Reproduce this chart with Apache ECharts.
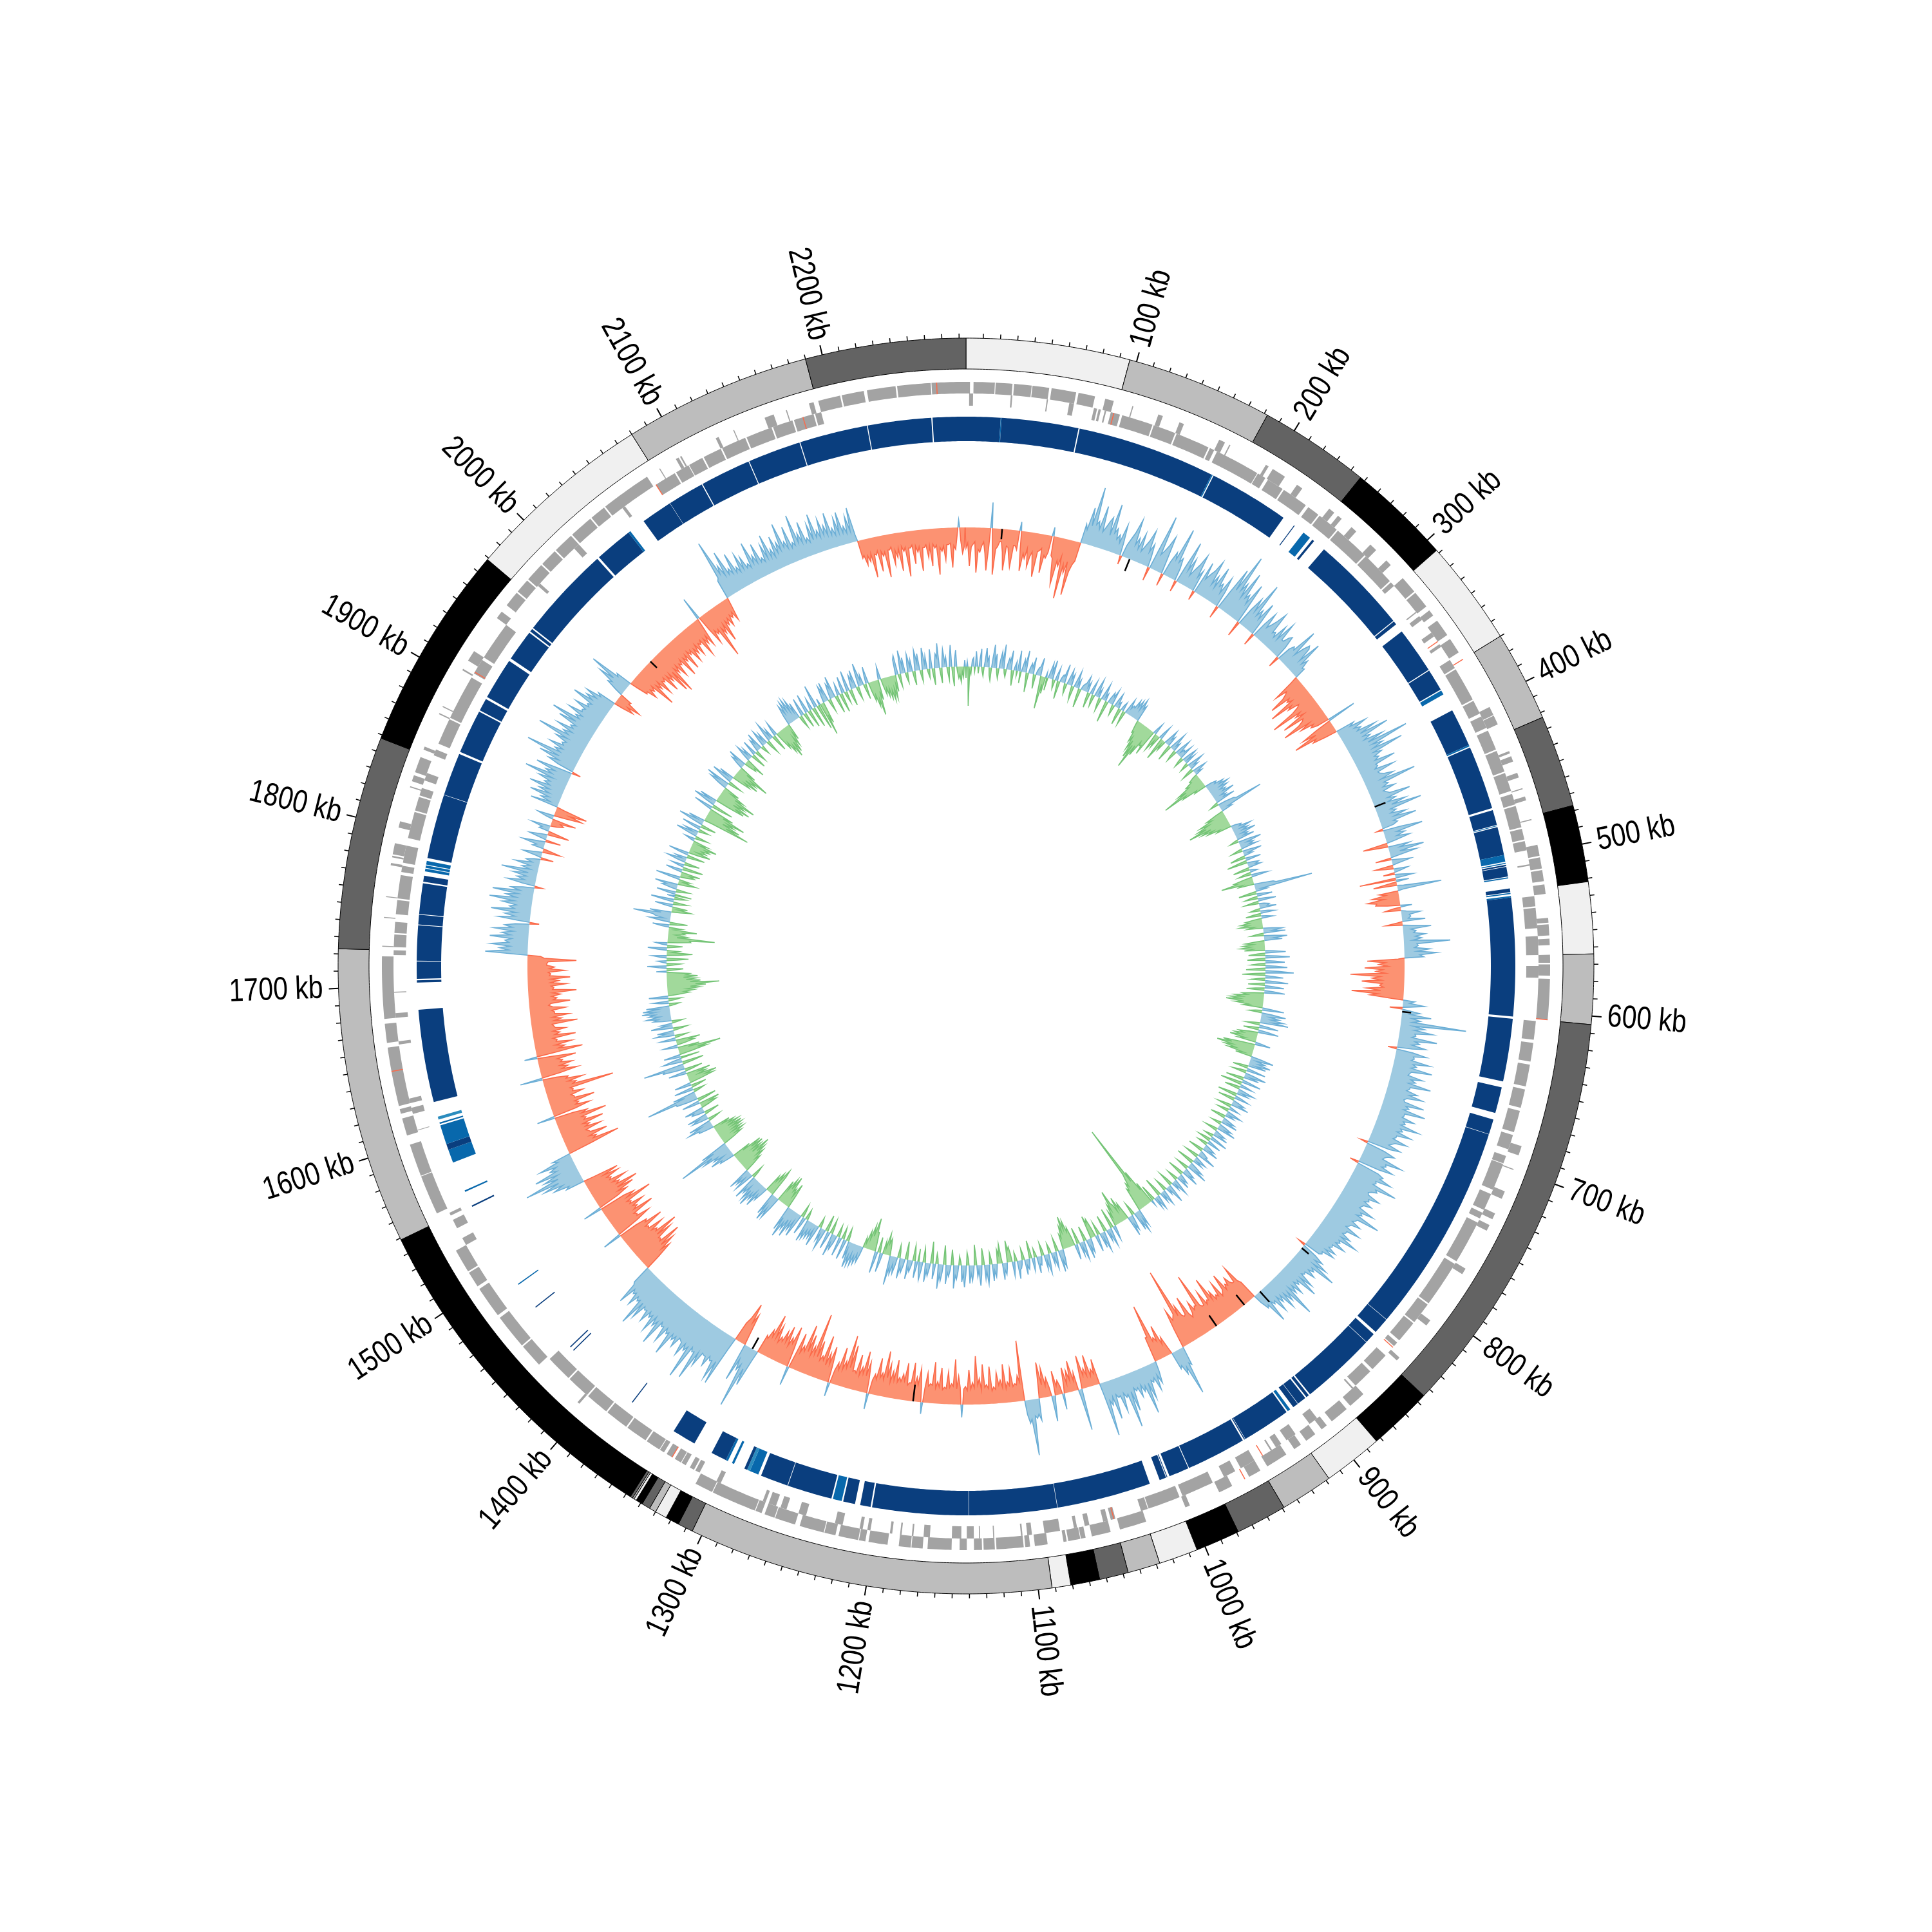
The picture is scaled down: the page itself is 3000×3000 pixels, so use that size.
<!DOCTYPE html>
<html><head><meta charset="utf-8">
<style>html,body{margin:0;padding:0;background:#fff}#c{width:3000px;height:3000px}</style>
<script src="https://cdn.jsdelivr.net/npm/echarts@6/dist/echarts.min.js"></script>
</head><body><div id="c"></div>
<script>
const genomeLength = 2284;
const tickLabels = [100,200,300,400,500,600,700,800,900,1000,1100,1200,1300,1400,1500,1600,1700,1800,1900,2000,2100,2200];

// [start kb, end kb, shade]
const bands = [[0,96,0],[96,182,1],[182,247,2],[247,308,3],[308,370,0],[370,423,1],[423,477,2],[477,522,3],[522,564,0],[564,605,1],[605,845,2],[845,883,3],[883,918,0],[918,949,1],[949,979,2],[979,1005,3],[1005,1028,0],[1028,1047,1],[1047,1064,2],[1064,1081,3],[1081,1092,0],[1092,1306,1],[1306,1315,2],[1315,1323,3],[1323,1330,0],[1330,1334,1],[1334,1339,2],[1339,1343,3],[1343,1344.5,0],[1344.5,1345.5,1],[1345.5,1347,2],[1347,1549,3],[1549,1723,1],[1723,1848,2],[1848,1969,3],[1969,2080,0],[2080,2190,1],[2190,2284,2]];

const fwdGenes = [[0,2.5],[4.7,18],[18.5,29],[30,41],[41.5,52],[53.5,69],[70.5,81],[87.5,93],[105,105.7],[122,125],[136,139],[163,167],[170,170.8],[196,198],[201,210],[219,223],[244,248],[251,254],[262,266],[278,283],[292,296],[307,318],[319,330],[333,337],[341,352],[355,365],[404,409.5],[410,416],[434,435.5],[437.5,441],[448.5,451.5],[458.5,459.2],[464,466.5],[478.5,479.2],[495,502],[503,510],[511,518],[520,526],[541,544],[545,552],[554,558],[564,569],[570,577],[579,604.5],[685,691],[700,700.7],[715,720],[730,734],[738,742],[769,773],[808,812],[838,840.5],[870,881],[884,896],[900,904],[909,916],[920,925],[931,945],[950,958],[970,979],[999,1002],[1028,1045],[1051,1063],[1067,1070],[1070.4,1078],[1079,1081],[1091,1099],[1102,1105],[1106,1123],[1124,1131],[1132,1137],[1141.5,1146],[1151,1166],[1169,1176],[1176.5,1184],[1191,1203],[1205,1209],[1209.5,1222],[1224,1231],[1231.5,1247],[1250,1263],[1263.5,1270],[1272,1276],[1276.5,1305],[1305.5,1317],[1405,1406.5],[1440,1455],[1456,1478],[1480,1500],[1502,1512],[1513,1528],[1554,1579],[1579.5,1600],[1606,1617],[1620,1623],[1625,1662],[1665,1677],[1680,1719],[1725,1725.6],[1743,1743.6],[1756,1756.6],[1776,1777.5],[1781,1782],[1783,1790],[1800,1804],[1826,1826.8],[1830,1834],[1836,1846],[1851,1853],[1875,1875.8],[1880,1880.7],[1906,1907],[1913,1920],[1945,1950],[1955,1965],[1966,1975],[1976,1988],[1989,2000],[2001,2014],[2015,2030],[2031,2041],[2042,2074],[2083,2083.6],[2095,2097],[2098,2099],[2123,2125],[2135,2135.6],[2156,2162],[2170,2170.7],[2185,2188],[2191,2205],[2206,2220],[2222,2240],[2241,2262],[2262.5,2284]];

const revGenes = [[2,4.5],[28.5,29.5],[51.5,52.3],[66,69],[82,84],[85,86.5],[89,90],[93,99],[100.5,120.6],[121.5,136],[137,159],[160,163],[165,194],[194.5,200],[202,213],[214,231],[233,241],[242,256],[257,280],[281,303],[304,307],[328.5,329.3],[332,335],[345,348],[354,356],[366,372],[373,395],[396,405],[407,415],[417,430],[431,445],[446,458],[460,467],[468,482],[483,490],[491,497],[506,507],[526.5,533],[534,547],[552,564],[571,578.5],[606,618],[620,632],[634,648],[650,662],[664,678],[680,689.5],[694,699],[699.4,717],[720,731],[733,737],[740,768],[770,800],[801,815],[816,830],[832,835],[843,855],[857,870],[872,873],[902,908],[919,926],[930,934],[937,938],[950,960],[964,972],[980,1001],[1003,1024],[1024.5,1029],[1046,1049],[1051,1054],[1063,1066],[1071,1073],[1082,1092],[1100,1103],[1106,1107],[1124,1124.7],[1133,1133.7],[1137,1141.5],[1145,1151],[1165,1169],[1175.5,1176.5],[1183,1184],[1189,1190.5],[1203,1205],[1208,1210],[1221,1226],[1245,1250],[1258,1262],[1265,1270],[1272,1274],[1303,1306],[1318,1321],[1322,1325],[1328,1331],[1331.5,1336],[1338,1342],[1344,1347],[1347.5,1357],[1358,1372],[1373,1388],[1389,1404],[1405,1420],[1421,1438],[1528,1533],[1540,1546],[1549,1551],[1607,1607.5],[1618,1622],[1625,1628],[1663,1665],[1680,1683],[1696,1696.6],[1720,1723],[1725,1733],[1734,1741],[1746,1755],[1756,1771],[1773,1777],[1779,1790],[1795,1812],[1813,1822],[1823,1828],[1833,1838],[1850,1854],[1858,1875],[1876,1905],[1908,1918],[1920,1945],[1977,1979],[2010,2014],[2050,2052],[2076,2090],[2091,2100],[2100.5,2110],[2111,2123],[2124,2140],[2141,2158],[2159,2172],[2173,2186],[2187,2191]];

// [kb, strand 0 outer / 1 inner]
const redGenes = [[2265.7,0],[604.5,0],[370,0],[1647,0],[961,0],[95,1],[352,1],[836,1],[944,1],[1047,1],[1338,1],[1909,1],[2076,1],[2179,1]];

// [start kb, end kb, shade]
const hits = [[0,23,0],[23,23.6,1],[23.6,75,0],[75.8,168.5,0],[168.5,169.3,1],[170,224,0],[232.6,233.2,0],[240.5,246,1],[248,249.5,0],[258,324,0],[324.6,327,0],[333,364,0],[364.6,379.3,0],[380,383,1],[395,420.5,0],[420.5,421.5,1],[422.3,465,0],[466.4,476.5,0],[477,477.4,1],[478,497,0],[497,501.5,1],[502.3,503,1],[503.6,504.6,0],[505,511.5,0],[512,512.8,1],[519.5,522,0],[522.5,523.2,1],[524.5,525.5,1],[525.5,604.5,0],[606,648,0],[652,669.5,0],[674,684,0],[684.3,825,0],[825.3,836,0],[838,845,0],[845.3,896,0],[897,899,0],[900,906,0],[906.3,910,0],[912.5,914.5,1],[915.5,948,0],[948.3,949,0],[950,990,0],[990.5,1004,0],[1005.5,1006,0],[1006.5,1011,0],[1018,1081,0],[1081.3,1140,0],[1140.3,1204.5,0],[1205.5,1212.5,0],[1216,1224,0],[1225,1231,1],[1232,1262,0],[1262.4,1281,0],[1283,1289,1],[1289,1291,2],[1291,1293,0],[1300.5,1302,1],[1305,1306.5,1],[1306.5,1317,0],[1330,1346,0],[1379,1379.7,0],[1431,1431.7,0],[1434,1434.7,0],[1469,1469.7,0],[1488,1488.7,1],[1548,1549,0],[1559,1560,1],[1580,1589,1],[1589,1593,0],[1593,1606,1],[1607,1608,1],[1610,1612,2],[1622,1684,0],[1702,1703.5,0],[1704.5,1716,0],[1716.5,1740,0],[1740.5,1747,0],[1747.5,1768,0],[1769,1773,0],[1776,1777.8,1],[1778.3,1780,1],[1780.5,1783,1],[1785,1828,0],[1828.3,1857,0],[1858.5,1888,0],[1889,1897.5,0],[1899,1927,0],[1929,1950,0],[1951,1953,0],[1954,2016.5,0],[2018,2043.5,0],[2043.5,2045,1],[2056,2077,0],[2077.2,2101.5,0],[2102.2,2136,0],[2136.6,2172,0],[2172.6,2218,0],[2218.6,2261,0],[2261.8,2284,0]];

// outer signal track, one list per 100 kb (positive outward, negative inward)
const skew0000 = [-32,-24,-60,-30,-26,-22,-70,-34,-38,-28,-22,-40,-66,-30,40,-26,-72,-32,-28,-20,-20,-36,-64,-26,-28,-44,-58,-24,-24,-30,14,-28,-62,-34,-42,-26,-54,-38,-30,-48,-68,-28,-26,-22,-60,-32,-36,-26,14,-30,-34,-56,-74,-36,-44,-28,-94,-40,-52,-34,-86,-48,-36,-30,30,22];
const skew0100 = [58,30,92,34,40,28,66,26,34,44,52,24,75,30,38,22,30,18,48,20,-14,18,30,42,64,24,36,20,46,18,28,38,56,22,36,16,-22,30,88,26,34,44,60,20,-20,22,40,30,82,28,36,20,-18,26,69,24,44,18,30,40,58,22,34,-15];
const skew0200 = [52,26,36,44,62,24,40,22,58,28,34,20,48,26,-20,30,72,38,100,42,56,34,78,36,44,30,66,24,-25,28,50,30,80,26,38,24,54,20,-20,24,46,22,30,40,56,22,26,18,42,20,52,24,24,34,38,20,-18,22,30,26,66,22,38,48];
const skew0300 = [44,22,58,20,30,16,18,-12,-45,-26,-30,-38,-62,-30,-36,-28,-70,-34,-42,-24,-28,-40,-78,-30,-40,-26,-66,-32,-35,-44,-72,-28,-45,-24,-30,-20,46,-26,-52,-30,-69,-34,-40,-18,30,22,48,26,36,28,58,30,76,32,42,30,60,34,99,38,54,36,84,34,46,32];
const skew0400 = [38,30,62,28,30,24,54,26,28,34,48,26,81,28,34,24,42,22,26,30,62,24,36,22,50,26,73,22,30,20,44,24,58,20,26,18,-10,28,62,20,32,18,38,14,-39,-14,34,18,55,16,42,12,-25,10,30,8,-28,-12,22,8,-18,10,28,-57];
const skew0500 = [20,-14,-37,10,69,8,-30,-20,-42,-24,-50,-36,-38,-20,18,-12,-25,8,30,12,14,10,36,-8,-26,14,44,12,20,16,34,18,28,14,72,20,22,16,40,20,51,24,30,-10,-58,-30,-40,-26,-62,-34,-44,-30,-84,-38,-50,-36,-66,-34,-38,-32,-58,-36,-81,-40,-52,-20];
const skew0600 = [18,10,34,12,-20,10,28,14,46,16,30,18,102,20,38,22,52,24,26,20,60,26,34,22,44,24,-14,26,48,28,30,26,56,30,36,28,62,30,28,26,50,32,40,30,66,34,34,30,48,36,58,34,30,32,64,36,42,34,70,38,38,36,56,40,44,38];
const skew0700 = [68,40,44,36,60,38,38,34,58,40,36,32,52,36,-12,30,48,38,34,32,65,40,42,36,56,34,-14,36,46,42,62,38,40,36,77,44,48,40,36,38,58,42,44,38,52,40,38,36,62,42,46,38,79,44,42,38,54,40,38,34,60,40,40,36,52,38];
const skew0800 = [67,38,42,36,54,34,36,32,46,30,47,28,30,26,-12,24,40,28,52,30,71,32,38,30,44,28,30,26,50,30,62,28,34,26,46,28,40,26,76,30,44,28,52,26,36,24,48,26,30,22,57,24,28,14,-30,-36,-63,-38,-38,-42,-52,-40,-44,-36,-65,-40];
const skew0900 = [-36,-32,-58,-36,-40,-34,-50,-38,-76,-40,-42,-36,-60,-38,-38,-42,-96,-44,-45,-40,-55,-38,-32,-40,-70,-42,-40,-44,-62,-46,-125,-52,-48,-44,-62,-30,30,26,76,30,40,24,28,-10,-30,-20,-52,-28,-35,-30,-91,-40,-40,16,34,20,43,22,28,24,52,26,74,28,36,24];
const skew1000 = [42,26,30,24,60,28,84,30,34,26,54,28,30,24,62,26,38,30,85,20,-40,-18,-26,-16,-50,-18,-30,-20,-52,-16,65,14,-28,-16,-48,-18,-34,-14,-40,-10,25,-12,-22,-14,-38,10,40,-14,-30,-18,-46,-20,-56,-18,34,24,30,26,87,30,36,22,-94,-30,-40,-26];
const skew1100 = [-28,-24,-52,-26,-32,-22,-60,-24,-36,-28,-48,-22,-26,-20,-58,-24,-30,-26,-62,-22,-40,-30,-75,-26,-34,-24,-54,-22,-28,-24,20,-26,-44,-24,-70,-28,-32,-26,-50,-24,-26,-22,-56,-26,-34,-24,-64,-28,-30,-26,-46,-22,18,-24,-52,-26,-38,-24,-60,-28,-28,-24,-58,-30,-40,-28];
const skew1200 = [-34,-26,-60,-28,-42,-24,-52,-30,-71,-26,-36,-28,-58,-24,-32,-22,25,-24,-48,-26,-64,-28,-38,-24,-56,-26,-30,-28,-68,-32,-82,-30,-40,-26,-60,-24,-34,-22,22,-26,-56,-28,-44,-24,-70,-30,-36,-28,-58,-32,-100,-34,-46,-30,-62,-34,-76,-32,-40,-28,-58,-22,30,-30,-64,-36];
const skew1300 = [-44,-30,-60,-34,-50,-32,-38,-28,-54,-34,-69,-32,-42,-26,-30,16,60,34,99,30,40,24,60,-16,-50,-36,-66,-40,-30,20,82,46,77,48,50,44,62,48,48,46,70,50,97,52,54,48,103,52,60,50,72,52,50,48,66,50,58,50,88,52,56,48,74,50,52,46];
const skew1400 = [88,50,60,46,74,48,54,46,66,48,50,46,70,44,86,44,48,42,60,40,44,38,66,34,30,-24,-50,-36,-62,-40,-77,-42,-46,-44,-70,-46,-84,-48,-52,-44,-66,-42,-44,-40,-72,-44,-48,-30,30,-36,-60,-40,-42,-38,-74,-42,-50,-44,-64,-42,-46,-40,-84,-44,-58,-42];
const skew1500 = [30,-34,-52,-38,-66,-40,-76,-42,-48,-38,-62,-36,-40,-34,-55,-32,-57,-18,30,24,48,32,62,36,90,34,56,32,68,30,40,28,54,22,30,-40,-85,-44,-50,-40,-70,-44,-42,-38,-64,-40,-48,-38,-72,-42,-46,-40,-81,-42,-52,-30,28,-36,-60,-38,-44,-38,-71,-40,-40,-36];
const skew1600 = [-56,-40,-42,-38,-108,-44,-50,-38,-62,-36,-40,-22,35,-30,-58,-34,-44,-32,-52,-34,-38,-30,-60,-26,20,-32,-73,-36,-46,-32,-58,-34,-36,-30,-66,-34,-42,-32,-52,-36,-34,-32,-72,-36,-48,-34,-60,-38,-38,-34,-56,-36,-30,-34,-64,-38,-44,-36,-50,-38,-75,-38,-40,-36,-60,-36];
const skew1700 = [-48,-36,-66,-34,-36,-32,-58,-34,-42,-30,-30,-32,-76,-26,-20,22,66,30,44,28,58,30,36,26,60,28,42,24,54,26,38,22,-15,20,50,24,40,22,62,26,34,24,46,28,67,26,42,24,64,22,36,18,-12,20,44,18,30,16,38,14,57,12,26,14,38,12];
const skew1800 = [22,10,-20,8,30,10,-28,-10,18,12,36,10,-24,8,28,10,-34,-12,16,12,30,-10,-20,-14,-38,12,26,-18,-44,-24,-50,-12,44,14,30,18,50,20,38,22,56,24,34,26,46,24,71,28,40,26,58,24,-14,26,44,28,62,30,86,32,42,30,54,32,36,30];
const skew1900 = [50,32,83,34,44,30,58,32,38,30,62,34,77,32,40,30,56,34,36,32,52,30,34,28,63,32,44,28,48,24,30,-14,-32,-20,-40,-18,-20,12,30,24,50,26,69,22,26,-12,-30,-28,-44,-30,-36,-28,-68,-32,-42,-30,-55,-34,-38,-32,-60,-34,-46,-34,-70,-36];
const skew2000 = [-76,-34,-44,-32,-54,-34,-38,-30,-62,-32,-40,-30,-58,-28,-36,-30,-52,-32,-42,-28,-48,-30,-34,-28,-56,-30,-40,-28,-46,-16,37,-24,-50,-30,-38,-32,-81,-34,-44,-30,-60,-28,-36,-26,-40,-24,-30,-22,-37,-14,30,34,95,38,50,32,70,30,38,28,60,26,34,24,52,26];
const skew2100 = [44,24,30,22,62,26,38,24,54,22,28,20,46,24,60,22,34,20,52,24,40,26,68,28,36,24,58,22,30,24,72,26,40,24,56,22,28,20,48,22,62,24,34,22,50,24,38,22,56,20,30,18,44,20,52,18,28,16,42,18,54,10,-28,-24,-40,-26];
const skew2200 = [-36,-24,-62,-26,-28,-22,-55,-24,-32,-26,-66,-24,-24,-20,-48,-26,-38,-24,-60,-22,-30,-24,-70,-26,-26,-22,-52,-24,-34,-26,-64,-28,-28,-24,-44,-26,-58,-24,-30,-26,-72,-30,-36,-28,-50,-26,-26,-24,-62,-28,-34,-12,12,-20,-40,-30];

// inner signal track, one list per 100 kb
const gc0000 = [-18,8,-61,-6,-12,10,14,-8,24,6,-10,12,28,-6,-14,8,30,10,16,-12,-20,14,36,8,22,-8,-16,12,26,10,38,-6,-12,8,18,12,30,-10,-24,6,14,-8,32,10,-18,6,20,12,34,-10,-30,8,16,10,26,-8,-22,6,12,14,28,-16,-51,-12,-26,8];
const gc0100 = [-20,6,24,10,30,-6,-14,8,20,-10,-28,6,12,10,30,-8,-16,8,24,10,18,-12,-22,8,26,6,14,-14,-30,6,10,12,24,8,16,-12,-24,10,22,-10,-18,12,28,6,14,-10,-20,8,26,6,12,-16,-34,8,18,12,24,-8,-16,10,22,6,10,-14,-26,8];
const gc0200 = [14,-10,-22,8,24,10,16,14,28,18,30,16,34,20,26,-8,-20,-18,-34,-26,-46,-30,-58,-36,-74,-34,-50,-24,-30,-28,-42,8,18,-12,-28,-10,-20,10,22,-14,-36,-8,-16,8,24,10,16,-12,-26,10,28,8,14,-10,-18,12,26,6,12,10,22,-8,-16,12,24,6];
const gc0300 = [18,-6,-14,10,26,8,14,-10,-20,10,22,6,12,-8,-16,-14,-26,-22,-44,-30,-72,-34,-40,-16,-20,10,18,14,28,20,34,18,30,16,24,18,36,12,20,14,32,-6,-14,12,26,30,72,12,18,-14,-30,-22,-44,-30,-50,-36,-66,-30,-46,-28,-38,-18,-24,8,16,12];
const gc0400 = [30,12,24,14,34,10,20,12,28,-6,-14,16,36,12,22,14,26,-8,-18,12,30,8,14,-12,-24,10,24,-14,-32,8,18,12,20,-12,-26,6,12,-10,-20,14,26,-14,-30,-26,-51,-18,-24,12,30,34,91,10,18,-14,-28,10,24,-10,-20,12,28,-10,-22,8,16,12];
const gc0500 = [26,-8,-16,12,22,-12,-24,8,18,-12,-26,-20,-34,-22,-36,-14,-24,14,30,14,34,-10,-20,16,36,14,28,-14,-30,-18,-34,-22,-38,-20,-32,14,32,-12,-26,18,38,-14,-28,14,30,-10,-22,16,34,-14,-30,20,44,-16,-36,12,28,-10,-22,16,36,-12,-26,14,30,-14];
const gc0600 = [-28,14,32,-16,-34,-26,-46,-34,-52,-38,-58,-30,-44,-22,-30,14,34,-10,-20,16,38,14,28,16,36,20,44,-10,-22,14,30,-12,-24,16,32,-14,-30,-22,-36,-26,-42,-18,-28,10,24,-22,-50,-36,-59,-34,-46,-28,-40,-14,-26,16,36,10,24,14,34,12,28,-12,-24,10];
const gc0700 = [30,-10,-22,14,34,10,24,-12,-28,12,30,-16,-34,8,20,-12,-24,10,26,8,18,-14,-30,10,22,-12,-26,8,20,12,28,-10,-22,6,16,-8,-18,10,24,6,14,-12,-24,8,20,10,26,-6,-16,10,22,12,30,-8,-20,6,18,10,24,-6,-14,12,28,-10,-20,8];
const gc0800 = [22,-8,-16,8,18,10,26,-10,-24,6,14,12,30,-10,-22,8,20,6,16,-12,-28,10,24,14,34,-8,-20,6,18,12,28,-12,-26,6,16,8,22,-8,-18,10,26,6,14,-12,-24,12,30,6,12,-10,-20,10,24,6,16,-14,-30,8,22,6,18,-10,-26,8];
const gc0900 = [-36,-24,-60,-44,-141,-60,-52,-40,-46,-34,-38,-12,26,14,34,16,30,-10,-20,10,24,14,32,-12,-28,-20,-40,-18,-30,-34,-55,-24,-34,-14,-24,10,22,-14,-32,10,28,8,18,-12,-26,12,30,10,24,-8,-20,10,26,-14,-30,-24,-36,10,22,12,30,-10,-24,12,28,8];
const gc1000 = [20,-12,-26,10,24,-14,-30,-24,-42,-30,-50,-26,-36,-18,-24,14,28,16,34,-10,-22,12,26,8,18,-8,-16,14,30,10,22,-10,-20,6,14,12,26,-6,-14,10,20,-14,-28,8,16,10,24,-8,-18,6,12,14,28,-6,-14,10,22,-12,-24,-20,-34,8,18,10,26,-8];
const gc1100 = [-30,-14,-22,8,20,10,26,-8,-18,14,30,10,22,-12,-26,14,32,8,18,-14,-32,10,24,12,28,-10,-20,14,34,12,26,-6,-14,10,22,16,36,-10,-24,8,18,12,30,-14,-30,12,26,16,38,-8,-16,10,24,-14,-34,8,20,12,30,-10,-22,12,28,14];
const gc1200 = [-20,10,26,-12,-24,8,18,12,30,-12,-28,10,22,14,32,-10,-20,12,26,12,28,18,46,-12,-26,-18,-33,-10,-20,14,30,-10,-24,14,34,-12,-30,-30,-51,-22,-38,-16,-28,-8,-16,12,26,14,30,18,34,16,36,20,40,12,28,-10,-20,14,32,-8,-18,10];
const gc1300 = [30,-8,-18,12,24,14,36,-10,-22,12,28,-12,-26,14,32,10,20,-8,-16,14,34,10,24,12,26,14,30,18,36,-8,-16,12,28,-10,-20,16,38,14,30,18,44,16,34,24,50,18,40,-20,-40,-18,-30,-24,-48,-26,-42,-22,-36,18,38,22,44,18,36,-34];
const gc1400 = [-45,-24,-36,-20,-28,10,24,16,38,14,30,20,44,18,36,14,28,20,40,-10,-20,14,32,12,26,16,36,-14,-30,-22,-40,-28,-46,-32,-56,-26,-44,-30,-50,-30,-48,-16,-30,10,24,20,38,14,30,22,46,30,85,24,44,-18,-34,-24,-40,-22,-38,-24,-42,-26,-43,-20];
const gc1500 = [-40,-24,-34,-16,-28,10,24,22,40,18,36,-10,-20,12,26,14,32,-10,-24,10,20,16,30,-12,-26,-16,-32,12,28,-14,-30,16,34,34,81,18,36,-8,-18,12,30,-10,-24,12,26,-20,-40,-28,-46,-18,-30,-20,-38,12,28,-12,-28,14,34,32,64,-16,-34,12,30,14];
const gc1600 = [-30,12,26,-20,-44,-30,-67,-16,-34,10,22,-14,-28,-20,-38,12,24,-8,-20,14,30,12,26,-10,-22,14,34,8,18,-8,-18,14,28,20,38,18,34,24,44,22,42,18,36,-8,-16,12,24,-10,-20,14,30,-16,-34,-26,-42,-30,-50,-36,-60,-44,-81,-36,-52,-30,-46,-26];
const gc1700 = [-48,-30,-36,-12,16,-10,-26,12,30,-10,-22,6,14,-16,-34,10,22,-18,-40,-8,-18,14,30,-10,-24,8,18,-16,-36,-34,-73,-14,-30,-12,-26,-22,-44,-10,-20,12,26,-12,-28,14,32,10,24,28,59,16,34,-14,-30,-10,-24,12,28,-10,-22,16,36,-8,-18,12];
const gc1800 = [-26,12,30,-8,-20,10,24,18,36,-12,-28,-8,-18,16,38,-10,-22,-14,-30,12,26,-16,-32,8,20,-10,-24,14,30,8,18,-12,-28,14,32,-16,-34,-12,-26,-18,-30,-22,-40,-12,-24,6,16,-8,-20,14,34,10,22,-6,-16,14,30,-10,-24,18,40,12,26,-14];
const gc1900 = [-75,-36,-58,-28,-46,-34,-62,-24,-40,12,30,-16,-34,16,36,12,28,-22,-48,-32,-56,-26,-44,-32,-60,-24,-38,-14,-26,14,30,18,38,-10,-22,16,34,10,24,-14,-30,-20,-42,-18,-36,-26,-55,-14,-28,10,22,14,30,-8,-20,-16,-32,12,26,8,18,-10,-24,8];
const gc2000 = [24,-8,-18,8,20,12,28,-6,-14,12,26,8,18,-10,-22,14,30,6,16,-12,-26,10,22,-14,-30,-22,-40,-30,-50,-26,-44,-20,-34,-14,-26,16,32,18,36,20,38,16,34,12,26,-10,-20,12,28,-10,-24,14,30,-12,-28,8,18,-14,-32,16,36,-18,-40,10];
const gc2100 = [-52,-20,-34,10,26,14,30,-8,-20,10,24,16,34,-12,-28,8,18,-14,-30,12,26,-8,-18,14,32,-12,-26,10,22,12,28,-10,-20,16,36,8,16,-10,-24,12,26,-14,-30,-22,-40,-30,-55,-18,-32,8,20,-12,-26,-16,-30,-18,-34,-22,-38,-20,-36,-14,-26,24];
const gc2200 = [30,-8,-20,14,36,10,24,-8,-16,12,28,8,18,-10,-22,14,32,12,26,-8,-18,16,34,8,20,-6,-14,12,30,-12,-26,10,22,16,38,-10,-24,12,28,8,16,-8,-20,14,34,-14,-30,12,26,-8,-18,-12,-24,-8,-16,10];

// [kb, signed length]
const blackMarks = [[30,-16],[139,-20],[436,18],[609,14],[825,14],[875,22],[892,-20],[921,-20],[1186,-26],[1327,-20],[1992,-14]];

// styles and track geometry
const SHADES = ['#f0f0f0','#bdbdbd','#636363','#000000'];
const HIT = ['#0a3e7e','#0868ac','#2b8cbe'];
const R = {ringOut:975,ringIn:927,fwdOut:907,mid:889,revIn:870,hitOut:853,hitIn:815,skew:681,gc:465,minor:982,major:990,label:999};

function tracks(lists,span){
  const out=[];
  lists.forEach((l,i)=>{
    const start=i*100, len=(i===lists.length-1? span-start:100);
    l.forEach((v,j)=>out.push([start+len*j/l.length,v]));
  });
  return out;
}
function signedRuns(points){
  const runs=[];let cur=null;
  points.forEach(p=>{
    const s=p[1]>=0?1:-1;
    if(!cur||cur.s!==s){cur={s,pts:[]};runs.push(cur);}
    cur.pts.push(p);
  });
  return runs;
}
const skewPts=tracks([skew0000,skew0100,skew0200,skew0300,skew0400,skew0500,skew0600,skew0700,skew0800,skew0900,skew1000,skew1100,skew1200,skew1300,skew1400,skew1500,skew1600,skew1700,skew1800,skew1900,skew2000,skew2100,skew2200],genomeLength);
const gcPts=tracks([gc0000,gc0100,gc0200,gc0300,gc0400,gc0500,gc0600,gc0700,gc0800,gc0900,gc1000,gc1100,gc1200,gc1300,gc1400,gc1500,gc1600,gc1700,gc1800,gc1900,gc2000,gc2100,gc2200],genomeLength);
const skewRuns=signedRuns(skewPts), gcRuns=signedRuns(gcPts);

function sectorPts(api,r0,r1,a,b){
  const n=Math.max(1,Math.ceil((b-a)/2)),pts=[];
  for(let i=0;i<=n;i++)pts.push(api.coord([r1,a+(b-a)*i/n]));
  for(let i=n;i>=0;i--)pts.push(api.coord([r0,a+(b-a)*i/n]));
  return pts;
}
function sectorSeries(data,r0,r1,colorOf,extra,z){
  return {type:'custom',coordinateSystem:'polar',silent:true,z:z||2,data,
    renderItem(p,api){
      const d=data[p.dataIndex];
      return {type:'polygon',shape:{points:sectorPts(api,r0,r1,d[0],d[1])},
        style:Object.assign({fill:colorOf(d)},extra||{})};
    }};
}
function runSeries(runs,base,step,upFill,upLine,downFill,downLine,z){
  return {type:'custom',coordinateSystem:'polar',silent:true,z,data:runs.map((r,i)=>[i,r.s]),
    renderItem(p,api){
      const run=runs[p.dataIndex],h=step/2,top=[];
      run.pts.forEach(q=>top.push(api.coord([base+q[1],q[0]])));
      const a=run.pts[0][0]-h,b=run.pts[run.pts.length-1][0]+h;
      const first=api.coord([base,a]),last=api.coord([base,b]);
      const edge=[first].concat(top,[last]);
      const back=[];const n=Math.ceil((b-a)/2);
      for(let i=n;i>=0;i--)back.push(api.coord([base,a+(b-a)*i/n]));
      const up=run.s>0;
      return {type:'group',children:[
        {type:'polygon',shape:{points:top.concat([last],back,[first])},style:{fill:up?upFill:downFill}},
        {type:'polyline',shape:{points:edge},style:{fill:null,stroke:up?upLine:downLine,lineWidth:1.6}}
      ]};
    }};
}

const minorTicks=[];for(let k=10;k<genomeLength;k+=10)minorTicks.push([k,k%100===0?1:0]);

const option={
  animation:false,backgroundColor:'#ffffff',
  polar:{center:[1500,1500],radius:[0,1000]},
  radiusAxis:{type:'value',min:0,max:1000,show:false},
  angleAxis:{type:'value',min:0,max:genomeLength,startAngle:90,clockwise:true,show:false},
  series:[
    runSeries(gcRuns,R.gc,1.5,'#9ecae1','#6baed6','#a1d99b','#74c476',3),
    runSeries(skewRuns,R.skew,1.5,'#9ecae1','#6baed6','#fc9272','#fb6a4a',4),
    {type:'custom',coordinateSystem:'polar',silent:true,z:5,data:blackMarks,
      renderItem(p,api){const d=blackMarks[p.dataIndex];
        const a=api.coord([R.skew,d[0]]),b=api.coord([R.skew+d[1],d[0]]);
        return {type:'line',shape:{x1:a[0],y1:a[1],x2:b[0],y2:b[1]},style:{stroke:'#000',lineWidth:2.5}};}},
    sectorSeries(hits,R.hitIn,R.hitOut,d=>HIT[d[2]]),
    sectorSeries(fwdGenes,R.mid,R.fwdOut,()=>'#a3a3a3'),
    sectorSeries(revGenes,R.revIn,R.mid,()=>'#a3a3a3'),
    {type:'custom',coordinateSystem:'polar',silent:true,z:3,data:redGenes,
      renderItem(p,api){const d=redGenes[p.dataIndex];
        const r0=d[1]?R.revIn:R.mid,r1=d[1]?R.mid:R.fwdOut;
        const a=api.coord([r0,d[0]]),b=api.coord([r1,d[0]]);
        return {type:'line',shape:{x1:a[0],y1:a[1],x2:b[0],y2:b[1]},style:{stroke:'#fb6a4a',lineWidth:1.5}};}},
    sectorSeries(bands,R.ringIn,R.ringOut,d=>SHADES[d[2]],{stroke:'#000',lineWidth:1},4),
    {type:'custom',coordinateSystem:'polar',silent:true,z:5,data:minorTicks,
      renderItem(p,api){const d=minorTicks[p.dataIndex];
        const a=api.coord([R.ringOut,d[0]]),b=api.coord([d[1]?R.major:R.minor,d[0]]);
        return {type:'line',shape:{x1:a[0],y1:a[1],x2:b[0],y2:b[1]},style:{stroke:'#000',lineWidth:d[1]?2:1.5}};}},
    {type:'custom',coordinateSystem:'polar',silent:true,z:6,data:tickLabels.map(k=>[k,0]),
      renderItem(p,api){const k=tickLabels[p.dataIndex];
        const c=api.coord([R.label,k]);
        const theta=k/genomeLength*360, right=theta<180;
        const deg=right?theta-90:theta-270;
        return {type:'text',x:c[0],y:c[1],rotation:-deg*Math.PI/180,scaleX:0.82,
          style:{text:k+' kb',fill:'#000',font:'50px "Liberation Sans"',align:right?'left':'right',verticalAlign:'middle'}};}}
  ]
};
const chart=echarts.init(document.getElementById('c'),null,{renderer:'canvas',width:3000,height:3000,devicePixelRatio:1});
chart.setOption(option);
</script></body></html>
